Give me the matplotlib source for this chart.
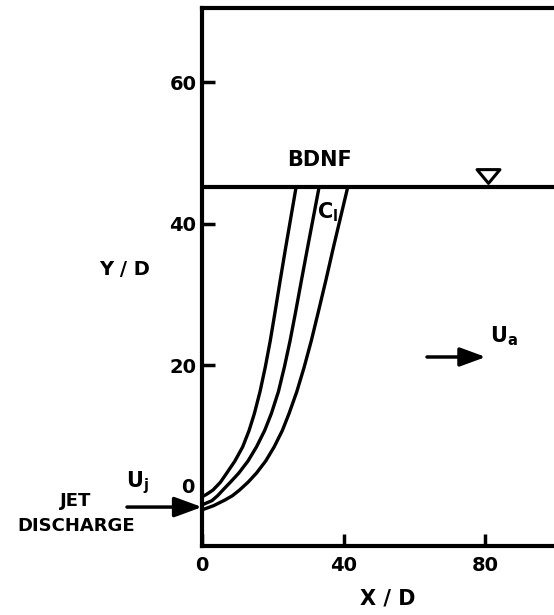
import matplotlib
matplotlib.use("Agg")
import matplotlib.pyplot as plt
from matplotlib.path import Path

# jet boundaries and centreline (X/D, Y/D)
upper_x = [0, 1.3, 3.1, 5.2, 7.0, 9.3, 11.5, 13.3, 14.8, 16.4, 17.9, 19.3, 20.6, 22.1, 23.7, 26.6]
upper_y = [1.45, 1.8, 2.4, 3.5, 4.8, 6.5, 8.5, 10.8, 13.2, 16.3, 19.8, 23.5, 27.4, 32.0, 36.8, 45.2]
middle_x = [0, 2.8, 4.4, 5.9, 8.0, 10.4, 13.0, 15.4, 17.7, 19.6, 21.6, 23.3, 24.9, 26.4, 28.1, 29.9, 33.1]
middle_y = [0.3, 0.9, 1.6, 2.4, 3.5, 4.8, 6.5, 8.5, 10.8, 13.2, 16.3, 19.8, 23.5, 27.4, 32.0, 36.8, 45.2]
lower_x = [0, 3.3, 6.5, 8.6, 10.6, 13.0, 15.4, 18.0, 20.4, 22.7, 24.6, 26.8, 28.9, 30.9, 32.8, 35.0, 37.2, 41.2]
lower_y = [-0.4, 0.2, 1.0, 1.6, 2.4, 3.5, 4.8, 6.5, 8.5, 10.8, 13.2, 16.3, 19.8, 23.5, 27.4, 32.0, 36.8, 45.2]

surface_y = 45.2
surface_mark_x = 80.8
ua_arrow_x = [63.6, 80.2]
ua_arrow_y = 21.2

x_ticks = [0, 40, 80]
y_ticks = [20, 40, 60]

plt.rcParams["font.family"] = ["DejaVu Sans"]
plt.rcParams["font.weight"] = "bold"
plt.rcParams["mathtext.fontset"] = "dejavusans"

fig = plt.figure(figsize=(5.54, 6.15), dpi=100)
ax = fig.add_axes([0.3646, 0.1122, 0.6354, 0.8748])
ax.set_xlim(0, 99.5)
ax.set_ylim(-5.5, 70.5)

for xs, ys in [(upper_x, upper_y), (middle_x, middle_y), (lower_x, lower_y)]:
    ax.plot(xs, ys, color="black", lw=2.4, solid_joinstyle="round")

ax.axhline(surface_y, color="black", lw=3)

# water surface symbol (open inverted triangle)
tri = Path([(-1, 0.6), (1, 0.6), (0, -0.6), (-1, 0.6)],
           [Path.MOVETO, Path.LINETO, Path.LINETO, Path.CLOSEPOLY])
ax.plot([surface_mark_x], [surface_y + 1.55], marker=tri, ms=16.5,
        mfc="white", mec="black", mew=2.2, clip_on=False)

ax.spines["right"].set_visible(False)
for side in ["left", "bottom", "top"]:
    ax.spines[side].set_linewidth(3)

ax.set_xticks(x_ticks)
ax.set_yticks(y_ticks)
ax.tick_params(direction="in", length=9, width=2.5, labelsize=14, pad=4)
ax.tick_params(axis="x", pad=7)
for lab in ax.get_xticklabels() + ax.get_yticklabels():
    lab.set_fontweight("bold")
ax.text(-2.0, 2.8, "0", ha="right", va="center", fontsize=14, fontweight="bold")

ax.text(33.3, 49.0, "BDNF", ha="center", va="center", fontsize=15, fontweight="bold")
ax.text(32.6, 41.7, r"$\mathbf{C_l}$", ha="left", va="center", fontsize=15)

ax.annotate("", xy=(ua_arrow_x[1], ua_arrow_y), xytext=(ua_arrow_x[0], ua_arrow_y),
            arrowprops=dict(arrowstyle="-|>,head_length=0.6,head_width=0.22", lw=2.5,
                            color="black", mutation_scale=26, shrinkA=0, shrinkB=0))
ax.text(81.4, 24.2, r"$\mathbf{U_a}$", ha="left", va="center", fontsize=15)

ax.annotate("", xy=(0, 0), xytext=(-21.2, 0), annotation_clip=False,
            arrowprops=dict(arrowstyle="-|>,head_length=0.6,head_width=0.22", lw=2.5,
                            color="black", mutation_scale=28, shrinkA=0, shrinkB=0))
ax.text(-21.5, 3.4, r"$\mathbf{U_j}$", ha="left", va="center", fontsize=15)
ax.text(-35.6, -0.9, "JET\nDISCHARGE", ha="center", va="center", fontsize=13,
        fontweight="bold", linespacing=1.45, multialignment="center")

ax.text(-21.8, 33.5, "Y / D", ha="center", va="center", fontsize=14, fontweight="bold")
ax.text(0.528, -0.097, "X / D", transform=ax.transAxes, ha="center", va="center",
        fontsize=15, fontweight="bold")

fig.savefig("out.png", dpi=100)
